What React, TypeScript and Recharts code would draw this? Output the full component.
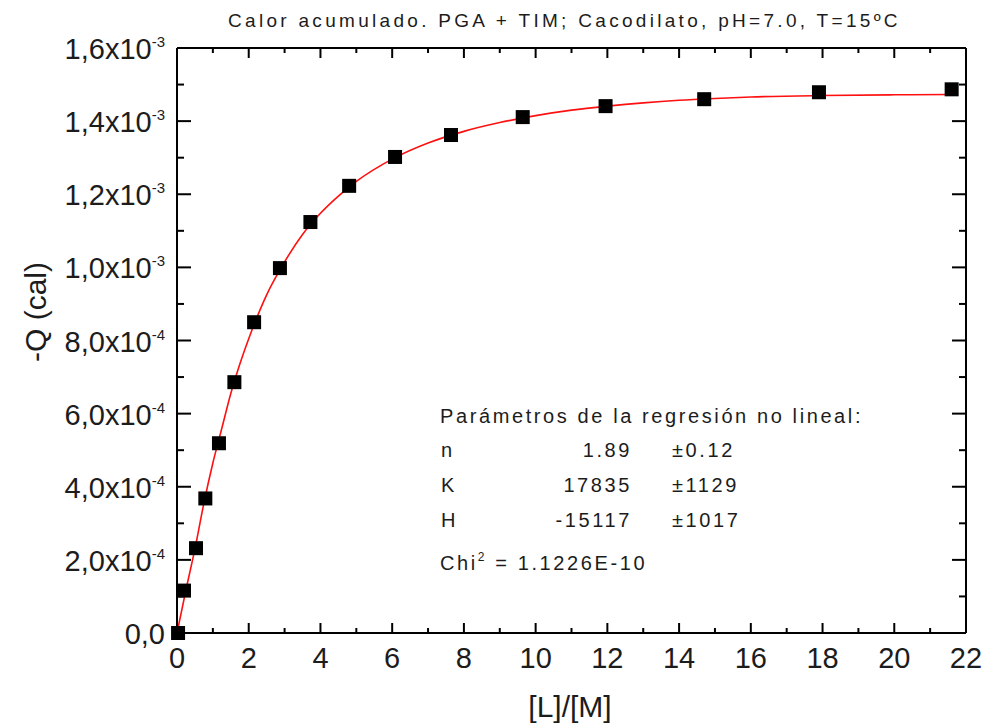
import { ComposedChart, Line, Scatter, XAxis, YAxis } from "recharts";

// measured points: [L]/[M] vs -Q (cal)
const pointX = [0.03, 0.195, 0.53, 0.79, 1.17, 1.6, 2.15, 2.87, 3.72, 4.8, 6.08, 7.64, 9.64, 11.95, 14.7, 17.9, 21.6];
const pointQ = [
  0.0, 1.16e-4, 2.32e-4, 3.68e-4, 5.19e-4, 6.86e-4, 8.5e-4, 9.98e-4, 1.124e-3,
  1.223e-3, 1.302e-3, 1.362e-3, 1.411e-3, 1.441e-3, 1.46e-3, 1.479e-3, 1.487e-3,
];

// red fit curve
const fitX = [0, 0.25, 0.5, 0.75, 1, 1.25, 1.5, 1.75, 2, 2.5, 3, 3.5, 4, 4.5, 5, 6, 7, 8, 9, 10, 11, 12, 13, 14, 15, 16, 18, 20, 21.6];
const fitQ = [
  0, 1.18e-4, 2.3e-4, 3.55e-4, 4.65e-4, 5.6e-4, 6.55e-4, 7.35e-4, 8.05e-4, 9.25e-4,
  1.015e-3, 1.09e-3, 1.148e-3, 1.195e-3, 1.235e-3, 1.296e-3, 1.34e-3, 1.372e-3,
  1.396e-3, 1.415e-3, 1.43e-3, 1.441e-3, 1.45e-3, 1.457e-3, 1.462e-3, 1.466e-3,
  1.47e-3, 1.472e-3, 1.473e-3,
];

const xMajorTicks = [0, 2, 4, 6, 8, 10, 12, 14, 16, 18, 20, 22];
const xMinorTicks = [1, 3, 5, 7, 9, 11, 13, 15, 17, 19, 21];
const yMajorTicks = [0, 2e-4, 4e-4, 6e-4, 8e-4, 1e-3, 1.2e-3, 1.4e-3, 1.6e-3];
const yMinorTicks = [1e-4, 3e-4, 5e-4, 7e-4, 9e-4, 1.1e-3, 1.3e-3, 1.5e-3];

const fitParams = [
  { name: "n", value: "1.89", err: "±0.12" },
  { name: "K", value: "17835", err: "±1129" },
  { name: "H", value: "-15117", err: "±1017" },
];

const points = pointX.map((x, i) => ({ x, q: pointQ[i] }));
const fit = fitX.map((x, i) => ({ x, q: fitQ[i] }));
const xTicks = [...xMajorTicks, ...xMinorTicks].sort((a, b) => a - b);
const yTicks = [...yMajorTicks, ...yMinorTicks].sort((a, b) => a - b);

const FONT = "'Liberation Sans', Arial, sans-serif";
const INK = "#1c1c1c";

function sciLabel(v: number) {
  if (v === 0) return { base: "0,0", exp: "" };
  const exp = Math.floor(Math.log10(v) + 1e-9);
  const mant = (v / Math.pow(10, exp)).toFixed(1).replace(".", ",");
  return { base: `${mant}x10`, exp: String(exp) };
}

function xTick(side: "bottom" | "top") {
  return (props: any) => {
    const { x, y, payload } = props;
    const major = payload.value % 2 === 0;
    const dir = side === "bottom" ? -1 : 1;
    return (
      <g>
        <line x1={x} x2={x} y1={y} y2={y + dir * (major ? 10 : 5)} stroke="#000" strokeWidth={2} />
        {side === "bottom" && major && (
          <text x={x} y={y + 35} textAnchor="middle" fontSize={29} fontFamily={FONT} fill={INK}>
            {payload.value}
          </text>
        )}
      </g>
    );
  };
}

function yTick(side: "left" | "right") {
  return (props: any) => {
    const { x, y, payload } = props;
    const major = Math.round(payload.value / 1e-4) % 2 === 0;
    const dir = side === "left" ? 1 : -1;
    const lbl = sciLabel(payload.value);
    return (
      <g>
        <line x1={x} x2={x + dir * (major ? 14 : 7)} y1={y} y2={y} stroke="#000" strokeWidth={2} />
        {side === "left" && major && (
          <text x={x - 12} y={y + 11} textAnchor="end" fontSize={29} fontFamily={FONT} fill={INK}>
            {lbl.base}
            {lbl.exp && (
              <tspan dy={-12} fontSize={15}>
                {lbl.exp}
              </tspan>
            )}
          </text>
        )}
      </g>
    );
  };
}

function Square(props: any) {
  const { cx, cy } = props;
  return <rect x={cx - 7} y={cy - 7} width={14} height={14} fill="#000" />;
}

export default function App() {
  return (
    <div style={{ position: "absolute", left: 0, top: 0, width: 993, height: 724, background: "#fff" }}>
      <ComposedChart width={993} height={724} margin={{ top: 47, right: 26, bottom: 90, left: 176 }}>
        <XAxis
          dataKey="x"
          type="number"
          domain={[0, 22]}
          ticks={xTicks}
          interval={0}
          height={1}
          tickSize={0}
          tickMargin={0}
          tickLine={false}
          axisLine={{ stroke: "#000", strokeWidth: 2 }}
          tick={xTick("bottom")}
        />
        <XAxis
          xAxisId="top"
          orientation="top"
          dataKey="x"
          type="number"
          domain={[0, 22]}
          allowDataOverflow
          ticks={xTicks}
          interval={0}
          height={1}
          tickSize={0}
          tickMargin={0}
          tickLine={false}
          axisLine={{ stroke: "#000", strokeWidth: 2 }}
          tick={xTick("top")}
        />
        <YAxis
          dataKey="q"
          type="number"
          domain={[0, 0.0016]}
          ticks={yTicks}
          interval={0}
          width={1}
          tickSize={0}
          tickMargin={0}
          tickLine={false}
          axisLine={{ stroke: "#000", strokeWidth: 2 }}
          tick={yTick("left")}
        />
        <YAxis
          yAxisId="right"
          orientation="right"
          dataKey="q"
          type="number"
          domain={[0, 0.0016]}
          allowDataOverflow
          ticks={yTicks}
          interval={0}
          width={1}
          tickSize={0}
          tickMargin={0}
          tickLine={false}
          axisLine={{ stroke: "#000", strokeWidth: 2 }}
          tick={yTick("right")}
        />
        <Line
          data={fit}
          dataKey="q"
          type="monotone"
          stroke="#ff1010"
          strokeWidth={1.6}
          dot={false}
          activeDot={false}
          isAnimationActive={false}
        />
        <Scatter data={points} dataKey="q" shape={Square} isAnimationActive={false} />
      </ComposedChart>

      <svg
        width={993}
        height={724}
        style={{ position: "absolute", left: 0, top: 0, pointerEvents: "none" }}
        fontFamily={FONT}
        fill={INK}
      >
        <text x={228} y={27} fontSize={19} letterSpacing={3.3}>
          Calor acumulado. PGA + TIM; Cacodilato, pH=7.0, T=15ºC
        </text>
        <text x={570} y={717} fontSize={30} textAnchor="middle">
          [L]/[M]
        </text>
        <text
          x={35}
          y={312}
          fontSize={30}
          textAnchor="middle"
          dominantBaseline="central"
          transform="rotate(-90 35 312)"
        >
          -Q (cal)
        </text>

        <g fontSize={20} letterSpacing={2.6}>
          <text x={440} y={423}>
            Parámetros de la regresión no lineal:
          </text>
          {fitParams.map((p, i) => (
            <g key={p.name}>
              <text x={441} y={457 + i * 35}>
                {p.name}
              </text>
              <text x={632} y={457 + i * 35} textAnchor="end">
                {p.value}
              </text>
              <text x={672} y={457 + i * 35}>
                {p.err}
              </text>
            </g>
          ))}
          <text x={440} y={570}>
            Chi
            <tspan dy={-9} fontSize={12}>
              2
            </tspan>
            <tspan dy={9}> = 1.1226E-10</tspan>
          </text>
        </g>
      </svg>
    </div>
  );
}
